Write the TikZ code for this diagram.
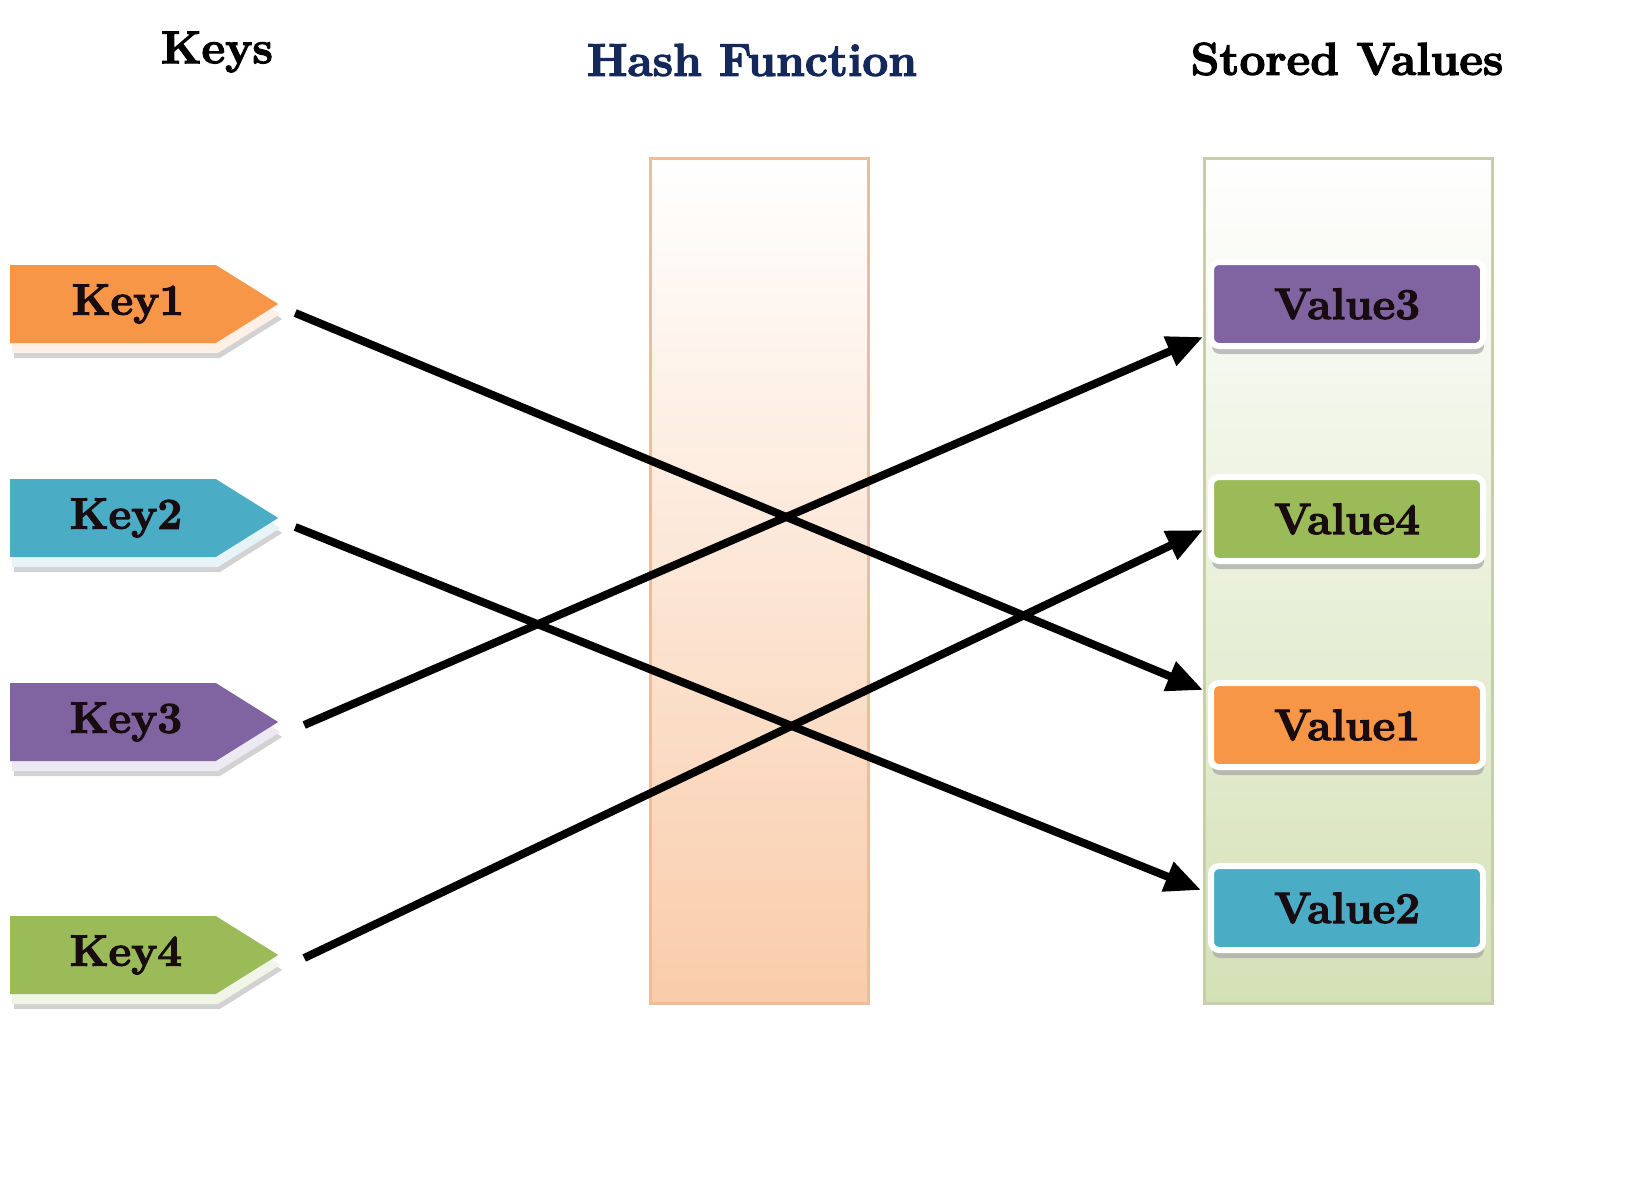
\documentclass[tikz,border=0pt]{standalone}
\usepackage{fontspec}
\setmainfont{Latin Modern Roman}[BoldFeatures={FakeBold=2.6}]
\usetikzlibrary{arrows.meta,shapes.symbols,shadows}
\definecolor{kor}{HTML}{F79646}
\definecolor{kbl}{HTML}{4BACC6}
\definecolor{kpu}{HTML}{8064A2}
\definecolor{kgr}{HTML}{9BBB59}
\definecolor{navy}{HTML}{14285A}
\definecolor{peach}{RGB}{249,204,170}
\definecolor{peachedge}{RGB}{236,188,155}
\definecolor{sage}{RGB}{212,225,182}
\definecolor{sageedge}{RGB}{200,206,170}
\definecolor{inkc}{HTML}{180C10}
\tikzset{
  title/.style={font=\fontsize{46}{50}\selectfont\bfseries, text=black, inner sep=0pt},
  keyshape/.style={shape=signal, signal to=east, signal pointer angle=64,
    minimum width=268pt, minimum height=78pt, inner sep=0pt, outer sep=0pt},
  keyshadow/.style={keyshape, fill=#1!14},
  keyshadowg/.style={keyshape, fill=gray!35},
  keytext/.style={font=\fontsize{44}{48}\selectfont\bfseries, text=inkc, inner sep=0pt},
  valbox/.style={rounded corners=8pt, minimum width=272pt, minimum height=84pt,
    draw=white, line width=6pt, fill=#1, inner sep=0pt, outer sep=0pt,
    font=\fontsize{44}{48}\selectfont\bfseries, text=inkc,
    drop shadow={shadow xshift=1pt, shadow yshift=-8pt, fill=gray!70, opacity=0.7}},
  conn/.style={line width=8pt, black, -{Triangle[length=36pt,width=30pt]}},
}
\begin{document}
\begin{tikzpicture}[x=1pt,y=-1pt]
\useasboundingbox[fill=white] (0,0) rectangle (1637,1179);

% titles
\node[title] (tk) at (217,52) {Keys};
\node[title, text=navy] (th) at (752,60) {Hash Function};
\node[title] (tv) at (1347,59) {Stored Values};

% hash function column
\node[draw=peachedge, line width=3pt, top color=white, bottom color=peach,
      minimum width=218pt, minimum height=845pt, inner sep=0pt] (hash) at (759,581) {};

% stored values column
\node[draw=sageedge, line width=3pt, top color=white, bottom color=sage,
      minimum width=288pt, minimum height=845pt, inner sep=0pt] (store) at (1348,581) {};

% values
\node[valbox=kpu] (v3) at (1347,304) {Value3};
\node[valbox=kgr] (v4) at (1347,519) {Value4};
\node[valbox=kor] (v1) at (1347,725) {Value1};
\node[valbox=kbl] (v2) at (1347,908) {Value2};

% keys (shadows first)
\node[keyshadowg] (k1g) at (117,319) {};
\node[keyshadow=kor] (k1s) at (115,314) {};
\node[keyshape, fill=kor] (k1) at (113,304) {};
\node[keytext] (k1t) at (128,304) {Key1};

\node[keyshadowg] (k2g) at (117,533) {};
\node[keyshadow=kbl] (k2s) at (115,528) {};
\node[keyshape, fill=kbl] (k2) at (113,518) {};
\node[keytext] (k2t) at (126,518) {Key2};

\node[keyshadowg] (k3g) at (117,737) {};
\node[keyshadow=kpu] (k3s) at (115,732) {};
\node[keyshape, fill=kpu] (k3) at (113,722) {};
\node[keytext] (k3t) at (126,722) {Key3};

\node[keyshadowg] (k4g) at (117,970) {};
\node[keyshadow=kgr] (k4s) at (115,965) {};
\node[keyshape, fill=kgr] (k4) at (113,955) {};
\node[keytext] (k4t) at (126,955) {Key4};

% connectors
\draw[conn] ([xshift=17pt,yshift=-9pt]k1.east) -- ([xshift=-8pt,yshift=35pt]v1.west);
\draw[conn] ([xshift=17pt,yshift=-9pt]k2.east) -- ([xshift=-10pt,yshift=18pt]v2.west);
\draw[conn] ([xshift=26pt,yshift=-3pt]k3.east) -- ([xshift=-8pt,yshift=-33pt]v3.west);
\draw[conn] ([xshift=26pt,yshift=-3pt]k4.east) -- ([xshift=-8pt,yshift=-11pt]v4.west);
\end{tikzpicture}
\end{document}
